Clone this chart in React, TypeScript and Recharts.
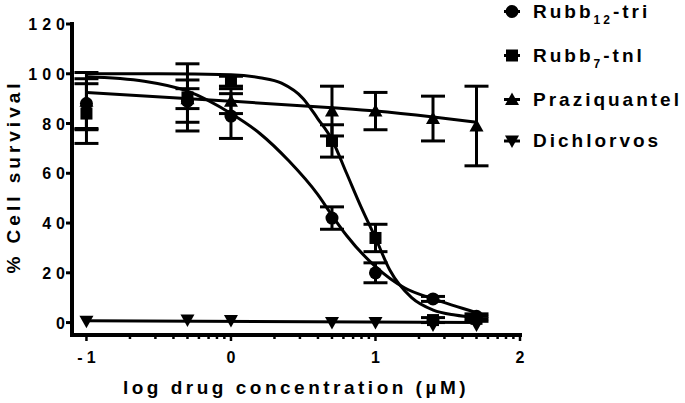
import { ComposedChart, XAxis, YAxis, Line, Scatter, ErrorBar } from 'recharts';

const FONT = '"Liberation Sans", Arial, sans-serif';

// log10 of dose (µM) where the measurements were taken
const doseLog = [-1, -0.301, 0, 0.699, 1, 1.398, 1.699];

const rubb12Mean = [88, 89, 83, 42, 20, 9.5, 2.5];
const rubb12Err = [10, 8.5, 9, 4.5, 4, 1, 1];
const rubb7Mean = [84, 90.5, 97, 73, 34, 1, 1.5];
const rubb7Err = [12, 13.5, 2, 6.5, 5.5, 1, 1];
const praziMean = [89, 90, 89, 85, 85, 82, 79];
const praziErr = [11.5, 4, 5, 10, 7.5, 9, 16];
const dichlorvosMean = [0.5, 1, 0.8, 0, 0, -1, -1];

// fitted dose-response curves
const rubb12FitX = [-1, -0.6, -0.3, 0, 0.2, 0.4, 0.6, 0.7, 0.8, 1, 1.2, 1.4, 1.7];
const rubb12FitY = [98.8, 97, 93, 84, 76, 65, 51.5, 43, 35, 22.5, 14, 9.5, 4];
const rubb7FitX = [-1, -0.5, 0, 0.2, 0.35, 0.5, 0.6, 0.7, 0.8, 0.9, 1, 1.1, 1.25, 1.4, 1.55, 1.7];
const rubb7FitY = [100, 100, 99.6, 98.4, 96.2, 90, 82, 73.4, 60, 46.5, 34, 21, 10, 5, 3, 2];
const praziFitX = [-1, 0, 0.7, 1, 1.4, 1.7];
const praziFitY = [92.5, 89, 86.3, 85, 82.6, 80.5];
const dichlorvosFitX = [-1, 1.7];
const dichlorvosFitY = [0.7, 0];

const xMajorTicks = [-1, 0, 1, 2];
const xMinorMultipliers = [2, 3, 4, 5, 6, 7, 8, 9];
const yTicks = [0, 20, 40, 60, 80, 100, 120];

const legendLabels = [
  { main: 'Rubb', sub: '12', rest: '-tri', shape: 'circle' },
  { main: 'Rubb', sub: '7', rest: '-tnl', shape: 'square' },
  { main: 'Praziquantel', sub: '', rest: '', shape: 'up' },
  { main: 'Dichlorvos', sub: '', rest: '', shape: 'down' },
];

const points = (means: number[], errs?: number[]) =>
  doseLog.map((x, i) => ({ x, y: means[i], err: errs ? errs[i] : 0 }));
const curve = (xs: number[], ys: number[]) => xs.map((x, i) => ({ x, y: ys[i] }));

const xMinorTicks = [-1, 0, 1].flatMap((d) => xMinorMultipliers.map((m) => d + Math.log10(m)));
const xTicks = [...xMajorTicks, ...xMinorTicks].sort((a, b) => a - b);

const Marker = ({ cx, cy, shape }: { cx: number; cy: number; shape: string }) => {
  if (shape === 'circle') return <circle cx={cx} cy={cy} r={6.5} fill="#000" />;
  if (shape === 'square') return <rect x={cx - 6} y={cy - 6} width={12} height={12} fill="#000" />;
  if (shape === 'up')
    return <path d={`M${cx},${cy - 7} L${cx + 7},${cy + 5.5} L${cx - 7},${cy + 5.5} Z`} fill="#000" />;
  return <path d={`M${cx},${cy + 7} L${cx + 7},${cy - 5.5} L${cx - 7},${cy - 5.5} Z`} fill="#000" />;
};

const XTick = ({ x, y, payload }: any) => {
  const v = payload.value;
  const major = xMajorTicks.some((t) => Math.abs(t - v) < 1e-6);
  return (
    <g>
      <line x1={x} x2={x} y1={y} y2={y + (major ? 6 : 4)} stroke="#000" strokeWidth={2.5} />
      {major && (
        <text x={x + 2} y={y + 28} textAnchor="middle" fontFamily={FONT} fontWeight={700} fontSize={16} letterSpacing={4} fill="#000">
          {v}
        </text>
      )}
    </g>
  );
};

const YTick = ({ x, y, payload }: any) => (
  <g>
    <line x1={x - 6} x2={x} y1={y} y2={y} stroke="#000" strokeWidth={3} />
    <text x={x - 2} y={y + 6} textAnchor="end" fontFamily={FONT} fontWeight={700} fontSize={16} letterSpacing={5} fill="#000">
      {payload.value}
    </text>
  </g>
);

const XTitle = ({ viewBox }: any) => (
  <text x={viewBox.x + viewBox.width / 2} y={viewBox.y + 59} textAnchor="middle" fontFamily={FONT} fontWeight={700} fontSize={19} letterSpacing={3.5} fill="#000">
    log drug concentration (µM)
  </text>
);

const YTitle = ({ viewBox }: any) => {
  const cx = viewBox.x + 20;
  const cy = viewBox.y + viewBox.height / 2 - 3;
  return (
    <text x={cx} y={cy} transform={`rotate(-90 ${cx} ${cy})`} textAnchor="middle" fontFamily={FONT} fontWeight={700} fontSize={19} letterSpacing={4} fill="#000">
      % Cell survival
    </text>
  );
};

const rowBaselines = [17.5, 61.5, 105.5, 147];

const LegendBox = () => (
  <svg width={185} height={160} style={{ position: 'absolute', left: 500, top: 0 }}>
    {legendLabels.map((item, i) => {
      const base = rowBaselines[i];
      const cy = base - 6;
      return (
        <g key={i}>
          <line x1={4} x2={20} y1={cy} y2={cy} stroke="#000" strokeWidth={3} />
          <Marker cx={12} cy={cy} shape={item.shape} />
          <text x={33} y={base} fontFamily={FONT} fontWeight={700} fontSize={19} letterSpacing={3} fill="#000">
            {item.main}
            {item.sub && (
              <tspan fontSize={12} dy={6}>
                {item.sub}
              </tspan>
            )}
            {item.rest && <tspan dy={item.sub ? -6 : 0}>{item.rest}</tspan>}
          </text>
        </g>
      );
    })}
  </svg>
);

const series = [
  { name: 'Rubb12-tri', data: points(rubb12Mean, rubb12Err), fit: curve(rubb12FitX, rubb12FitY), shape: 'circle', err: true },
  { name: 'Rubb7-tnl', data: points(rubb7Mean, rubb7Err), fit: curve(rubb7FitX, rubb7FitY), shape: 'square', err: true },
  { name: 'Praziquantel', data: points(praziMean, praziErr), fit: curve(praziFitX, praziFitY), shape: 'up', err: true },
  { name: 'Dichlorvos', data: points(dichlorvosMean), fit: curve(dichlorvosFitX, dichlorvosFitY), shape: 'down', err: false },
];

export default function App() {
  return (
    <div style={{ position: 'absolute', left: 0, top: 0, width: 685, height: 403, background: '#fff' }}>
      <ComposedChart width={685} height={403} margin={{ top: 24, right: 165, bottom: 0, left: 0 }}>
        <XAxis
          type="number"
          dataKey="x"
          domain={[-1.1, 2]}
          ticks={xTicks}
          interval={0}
          tickSize={0}
          tickMargin={0}
          tickLine={false}
          tick={<XTick />}
          height={68}
          allowDataOverflow
          axisLine={{ stroke: '#000', strokeWidth: 4, strokeLinecap: 'square' }}
          label={<XTitle />}
        />
        <YAxis
          type="number"
          dataKey="y"
          domain={[-5, 120]}
          ticks={yTicks}
          interval={0}
          tickSize={0}
          tickMargin={0}
          tickLine={false}
          tick={<YTick />}
          width={72}
          allowDataOverflow
          axisLine={{ stroke: '#000', strokeWidth: 4, strokeLinecap: 'square' }}
          label={<YTitle />}
        />
        {series.map((s) => (
          <Line
            key={s.name + '-fit'}
            data={s.fit}
            dataKey="y"
            type="monotone"
            stroke="#000"
            strokeWidth={3}
            dot={false}
            activeDot={false}
            isAnimationActive={false}
            legendType="none"
          />
        ))}
        {series.map((s) => (
          <Scatter
            key={s.name}
            name={s.name}
            data={s.data}
            dataKey="y"
            isAnimationActive={false}
            shape={(p: any) => <Marker cx={p.cx} cy={p.cy} shape={s.shape} />}
          >
            {s.err && <ErrorBar dataKey="err" direction="y" width={12} strokeWidth={3} stroke="#000" />}
          </Scatter>
        ))}
      </ComposedChart>
      <LegendBox />
    </div>
  );
}
